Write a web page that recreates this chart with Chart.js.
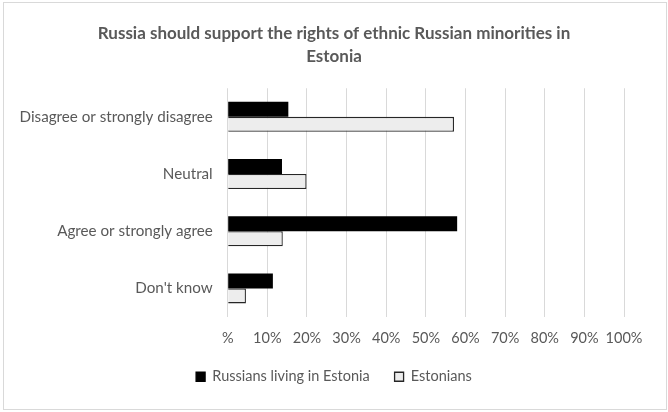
<!DOCTYPE html>
<html>
<head>
<meta charset="utf-8">
<script src="https://cdn.jsdelivr.net/npm/chart.js@4/dist/chart.umd.min.js"></script>
<style>
  html, body { margin: 0; padding: 0; background: #ffffff; }
  #frame {
    position: absolute; left: 3px; top: 2px;
    width: 664px; height: 408px;
    border: 1px solid #d9d9d9; box-sizing: border-box;
  }
  #wrap { position: absolute; left: 0; top: 0; width: 668px; height: 412px; }
</style>
</head>
<body>
<div id="frame"></div>
<div id="wrap"><canvas id="chart" width="668" height="412"></canvas></div>
<script>
// Survey answers, shares in percent
const categories = [
  'Disagree or strongly disagree',
  'Neutral',
  'Agree or strongly agree',
  "Don't know"
];
const russiansInEstonia = [15.3, 13.7, 57.9, 11.4];
const estonians = [57.1, 19.9, 13.9, 4.6];
const seriesNames = ['Russians living in Estonia', 'Estonians'];
const titleLines = ['Russia should support the rights of ethnic Russian minorities in', 'Estonia'];

const FONT = 'Lato, "Open Sans", sans-serif';
const TEXT = '#595959';

new Chart(document.getElementById('chart'), {
  type: 'bar',
  data: {
    labels: categories,
    datasets: [
      {
        label: seriesNames[0],
        data: russiansInEstonia,
        backgroundColor: '#000000',
        borderColor: '#000000',
        borderWidth: 0
      },
      {
        label: seriesNames[1],
        data: estonians,
        backgroundColor: '#ededed',
        borderColor: '#262626',
        borderWidth: 1.3
      }
    ]
  },
  options: {
    indexAxis: 'y',
    responsive: false,
    animation: false,
    devicePixelRatio: 1,
    categoryPercentage: 0.524,
    barPercentage: 1,
    layout: { padding: { top: 22, left: 10, right: 10, bottom: 18 } },
    plugins: {
      title: {
        display: true,
        text: titleLines,
        color: TEXT,
        font: { family: FONT, size: 17, weight: 'bold', lineHeight: 1.36 },
        padding: { top: 0, bottom: 20 }
      },
      legend: {
        position: 'bottom',
        labels: {
          color: TEXT,
          font: { family: FONT, size: 14.5 },
          boxWidth: 9,
          boxHeight: 9,
          padding: 10,
          generateLabels(chart) {
            return chart.data.datasets.map((ds, i) => ({
              text: ds.label + (i === 0 ? '    ' : ''),
              fillStyle: ds.backgroundColor,
              strokeStyle: i === 0 ? '#000000' : '#262626',
              lineWidth: 1.3,
              fontColor: TEXT,
              datasetIndex: i,
              hidden: false
            }));
          }
        }
      },
      tooltip: { enabled: false }
    },
    scales: {
      x: {
        min: 0,
        max: 100,
        ticks: {
          stepSize: 10,
          color: TEXT,
          font: { family: FONT, size: 14.5 },
          padding: 13,
          maxRotation: 0,
          minRotation: 0,
          autoSkip: false,
          callback: v => (v === 0 ? '%' : v + '%')
        },
        grid: { color: '#d9d9d9', lineWidth: 1, drawTicks: false },
        border: { display: false },
        afterFit(scale) { scale.height = 42.5; }
      },
      y: {
        ticks: {
          color: TEXT,
          font: { family: FONT, size: 15.2 },
          padding: 15
        },
        grid: { display: false, drawTicks: false },
        border: { display: false },
        afterFit(scale) { scale.width = 217.7; }
      },
      // empty right-hand margin box so the plot ends at 100% while title and legend stay centred
      margin: {
        type: 'linear',
        position: 'right',
        ticks: { display: false },
        grid: { display: false, drawTicks: false },
        border: { display: false },
        afterFit(scale) { scale.width = 34; }
      }
    }
  }
});
</script>
</body>
</html>
